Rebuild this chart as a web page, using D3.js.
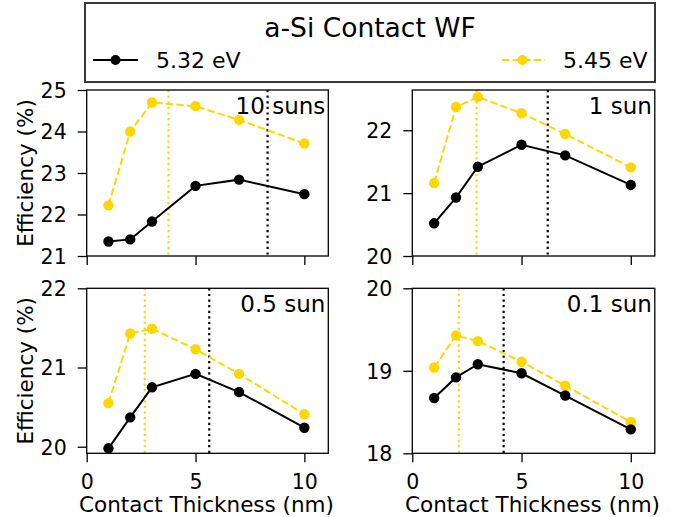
<!DOCTYPE html>
<html>
<head>
<meta charset="utf-8">
<script src="https://cdn.jsdelivr.net/npm/d3@7"></script>
<style>
  html, body { margin: 0; padding: 0; background: #fff; }
  svg { display: block; font-family: "DejaVu Sans", sans-serif; }
</style>
</head>
<body>
<svg id="chart" width="684" height="517"></svg>
<script>
// ---- data ----
const thickness = [1, 2, 3, 5, 7, 10];
const seriesNames = ["5.32 eV", "5.45 eV"];
const panelLabels = ["10 suns", "1 sun", "0.5 sun", "0.1 sun"];
const wf532 = [
  [21.35, 21.40, 21.83, 22.69, 22.84, 22.49],
  [20.52, 20.93, 21.42, 21.77, 21.60, 21.13],
  [19.98, 20.37, 20.75, 20.92, 20.69, 20.24],
  [18.67, 18.92, 19.08, 18.97, 18.70, 18.29]
];
const wf545 = [
  [22.22, 24.00, 24.70, 24.61, 24.28, 23.71],
  [21.16, 22.37, 22.53, 22.27, 21.94, 21.41],
  [20.55, 21.43, 21.49, 21.23, 20.92, 20.41],
  [19.04, 19.43, 19.36, 19.11, 18.82, 18.38]
];
const optimum532 = [8.31, 6.2, 5.63, 4.18];
const optimum545 = [3.76, 2.94, 2.67, 2.13];
const yLimits = [[21, 25], [20, 22.64], [19.917, 22], [18, 20]];
const yTicks = [[21, 22, 23, 24, 25], [20, 21, 22], [20, 21, 22], [18, 19, 20]];
const xTicks = [0, 5, 10];
const xLimit = [0, 11.1];

const BLACK = "#000000";
const GOLD = "#FFD700";

const svg = d3.select("#chart");

const panels = [
  {x0: 86.7, x1: 328.3, y0: 90, y1: 256},
  {x0: 412.3, x1: 654.8, y0: 90, y1: 256},
  {x0: 86.7, x1: 328.3, y0: 288.3, y1: 453.3},
  {x0: 412.3, x1: 654.8, y0: 288.3, y1: 453.3}
];

panels.forEach((p, i) => {
  const x = d3.scaleLinear().domain(xLimit).range([p.x0, p.x1]);
  const y = d3.scaleLinear().domain(yLimits[i]).range([p.y1, p.y0]);
  const g = svg.append("g");

  const clipId = "clip" + i;
  svg.append("clipPath").attr("id", clipId).append("rect")
    .attr("x", p.x0).attr("y", p.y0).attr("width", p.x1 - p.x0).attr("height", p.y1 - p.y0);

  const plot = g.append("g").attr("clip-path", `url(#${clipId})`);

  // vertical dotted lines
  [[optimum545[i], GOLD], [optimum532[i], BLACK]].forEach(([v, c]) => {
    plot.append("line")
      .attr("x1", x(v)).attr("x2", x(v)).attr("y1", p.y0).attr("y2", p.y1)
      .attr("stroke", c).attr("stroke-width", 2.2).attr("stroke-dasharray", "2.2,3.4");
  });

  const line = d3.line().x((d, j) => x(thickness[j])).y(d => y(d));

  // series 5.45 (gold, dashed)
  plot.append("path").datum(wf545[i])
    .attr("d", line).attr("fill", "none").attr("stroke", GOLD)
    .attr("stroke-width", 2).attr("stroke-dasharray", "7.4,3.2");
  plot.selectAll(".m545").data(wf545[i]).enter().append("circle")
    .attr("cx", (d, j) => x(thickness[j])).attr("cy", d => y(d)).attr("r", 5.2)
    .attr("fill", GOLD);

  // series 5.32 (black solid)
  plot.append("path").datum(wf532[i])
    .attr("d", line).attr("fill", "none").attr("stroke", BLACK).attr("stroke-width", 2);
  plot.selectAll(".m532").data(wf532[i]).enter().append("circle")
    .attr("cx", (d, j) => x(thickness[j])).attr("cy", d => y(d)).attr("r", 5.2)
    .attr("fill", BLACK);

  // axes
  const xAxis = d3.axisBottom(x).tickValues(xTicks).tickSize(9).tickPadding(12)
    .tickFormat(i >= 2 ? d3.format("d") : () => "");
  const xg = g.append("g").attr("transform", `translate(0,${p.y1})`).call(xAxis);
  const yAxis = d3.axisLeft(y).tickValues(yTicks[i]).tickSize(9).tickPadding(11).tickFormat(d3.format("d"));
  const yg = g.append("g").attr("transform", `translate(${p.x0},0)`).call(yAxis);
  [xg, yg].forEach(a => {
    a.select(".domain").remove();
    a.selectAll(".tick line").attr("stroke", "#000").attr("stroke-width", 1.3);
    a.selectAll(".tick text").attr("fill", "#000").style("font-size", "20.5px")
      .style("font-family", "DejaVu Sans");
  });
  xg.selectAll(".tick text").attr("dy", "0.71em");
  yg.selectAll(".tick text").attr("dy", "0.36em");

  // frame
  g.append("rect").attr("x", p.x0).attr("y", p.y0)
    .attr("width", p.x1 - p.x0).attr("height", p.y1 - p.y0)
    .attr("fill", "none").attr("stroke", "#000").attr("stroke-width", 1.3);

  // panel label
  g.append("text").attr("x", p.x1 - 3).attr("y", p.y0 + 24)
    .attr("text-anchor", "end").style("font-size", "23px").text(panelLabels[i]);

  if (i % 2 === 0) {
    g.append("text")
      .attr("transform", `translate(${33},${(p.y0 + p.y1) / 2}) rotate(-90)`)
      .attr("text-anchor", "middle").style("font-size", "21.5px").text("Efficiency (%)");
  }
  if (i >= 2) {
    g.append("text").attr("x", (x(0) + p.x1) / 2 - 1).attr("y", 512)
      .attr("text-anchor", "middle").style("font-size", "21.5px").text("Contact Thickness (nm)");
  }
});

// legend
const lg = svg.append("g");
lg.append("rect").attr("x", 85).attr("y", 3).attr("width", 570).attr("height", 79)
  .attr("fill", "#fff").attr("stroke", "#3a3a3a").attr("stroke-width", 2);
lg.append("text").attr("x", 370).attr("y", 37).attr("text-anchor", "middle")
  .style("font-size", "26.5px").text("a-Si Contact WF");

const legendItems = [
  {name: seriesNames[0], color: BLACK, dash: null, lx: 93, tx: 156},
  {name: seriesNames[1], color: GOLD, dash: "7.4,3.2", lx: 500, tx: 563}
];
legendItems.forEach(it => {
  const ly = 60;
  const l = lg.append("line").attr("x1", it.lx).attr("x2", it.lx + 45)
    .attr("y1", ly).attr("y2", ly).attr("stroke", it.color).attr("stroke-width", 2);
  if (it.dash) l.attr("stroke-dasharray", it.dash).attr("stroke-dashoffset", -2);
  lg.append("circle").attr("cx", it.lx + 22.5).attr("cy", ly).attr("r", 5).attr("fill", it.color);
  lg.append("text").attr("x", it.tx).attr("y", ly + 8).style("font-size", "22px").text(it.name);
});
</script>
</body>
</html>
